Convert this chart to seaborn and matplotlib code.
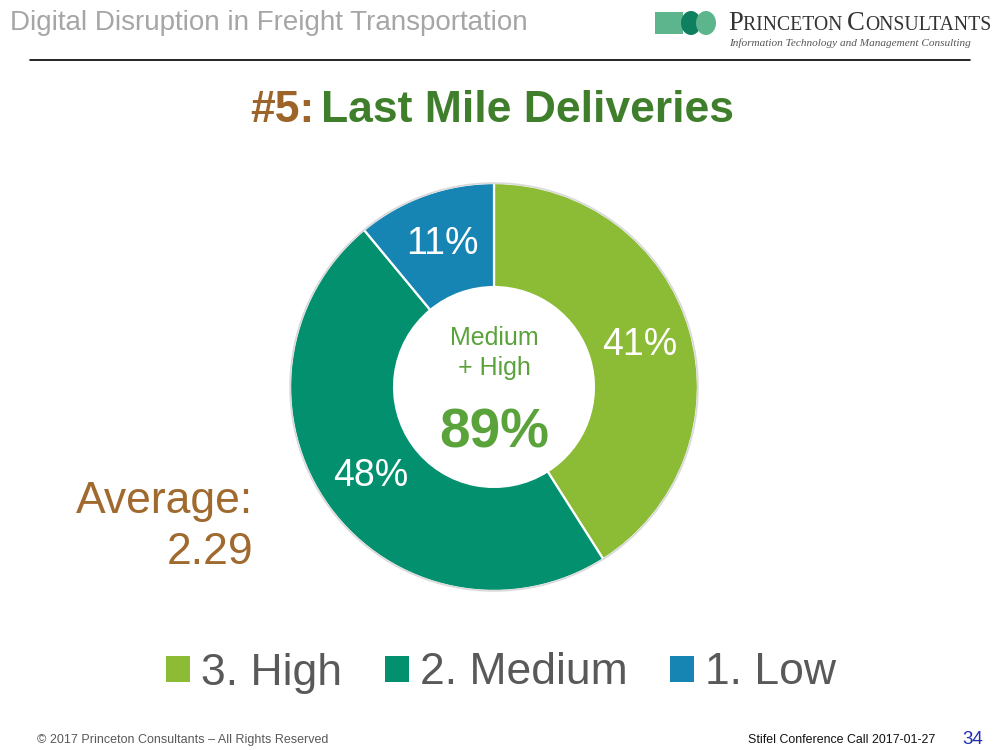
import matplotlib
matplotlib.use("Agg")
import matplotlib.pyplot as plt
import seaborn as sns
from matplotlib.patches import Rectangle, Circle, Ellipse

# ---- data ----
categories = ["3. High", "2. Medium", "1. Low"]
shares = [41, 48, 11]
slice_colors = ["#8CBB35", "#03906F", "#1685B3"]
combined_label_1 = "Medium"
combined_label_2 = "+ High"
combined_value = "89%"
average_label = "Average:"
average_value = "2.29"
header_text = "Digital Disruption in Freight Transportation"
title_num = "#5:"
title_text = "Last Mile Deliveries"

sns.set_theme(style="white")
plt.rcParams['font.family'] = ['Liberation Sans', 'DejaVu Sans']

fig = plt.figure(figsize=(10, 7.5), dpi=100)
fig.patch.set_facecolor("white")

deco = fig.add_axes([0, 0, 1, 1])
deco.set_xlim(0, 1000)
deco.set_ylim(750, 0)
deco.axis("off")
renderer = fig.canvas.get_renderer()


def text_run(x, y, parts, **kw):
    """place text pieces one after another; returns end x in pixels"""
    for s, extra in parts:
        opts = dict(kw)
        opts.update(extra)
        t = deco.text(x, y, s, ha="left", **opts)
        bb = t.get_window_extent(renderer=renderer)
        x = x + bb.width
    return x


# header
deco.text(10, 23, header_text, fontsize=20, color="#A6A6A6", va="center", ha="left")
deco.plot([30, 970], [60, 60], color="black", lw=1.2)

# logo
deco.add_patch(Rectangle((655, 12), 28, 22, color="#5DB58E", lw=0))
deco.add_patch(Ellipse((691, 23), 20, 24, color="#0E7F5F", lw=0))
deco.add_patch(Ellipse((706, 23), 20, 24, color="#5DB58E", lw=0))
big = dict(fontsize=19.2)
small = dict(fontsize=14.2)
text_run(728, 30, [("P", big), ("RINCETON ", small), ("C", big), ("ONSULTANTS", small)],
         family="Liberation Serif", color="#333333", va="baseline")
deco.text(729, 43, "Information Technology and Management Consulting", fontsize=8.1,
          family="Liberation Serif", style="italic", color="#555555", va="center", ha="left")

# title
end = text_run(250, 111, [(title_num, dict(color="#9C6428"))], fontsize=32,
               fontweight="bold", va="center")
deco.text(end + 7, 111, title_text, fontsize=32, fontweight="bold", color="#3F7F2B",
          va="center", ha="left")

# donut
cx, cy, r = 494, 387, 208
ax = fig.add_axes([(cx - r) / 1000, 1 - (cy + r) / 750, 2 * r / 1000, 2 * r / 750])
wedges, texts, autotexts = ax.pie(
    shares, colors=slice_colors, startangle=90, counterclock=False,
    radius=1.0, autopct="%1.0f%%", pctdistance=0.745,
    wedgeprops=dict(width=0.51, edgecolor="white", linewidth=1.6),
    textprops=dict(color="white", fontsize=27))
ax.add_patch(Circle((0, 0), 1.0, fill=False, edgecolor="#D9D9D9", lw=1.2))
ax.set_xlim(-1.02, 1.02)
ax.set_ylim(-1.02, 1.02)
ax.set_aspect("equal")
ax.axis("off")

# center text
deco.text(cx, 338, combined_label_1, fontsize=18, color="#5AA23A", ha="center", va="center")
deco.text(cx, 368, combined_label_2, fontsize=18, color="#5AA23A", ha="center", va="center")
deco.text(cx, 433, combined_value, fontsize=39.5, fontweight="bold", color="#5AA23A",
          ha="center", va="center")

# average
deco.text(253, 502, average_label, fontsize=32, color="#A0692E", ha="right", va="center")
deco.text(253, 553, average_value, fontsize=32, color="#A0692E", ha="right", va="center")

# legend
leg = fig.legend(wedges, categories, loc="center", bbox_to_anchor=(0.501, 1 - 673 / 750),
                 ncol=3, frameon=False, fontsize=32, handlelength=0.54, handleheight=0.52,
                 handletextpad=0.25, columnspacing=0.95, labelcolor="#595959",
                 borderpad=0, borderaxespad=0)
for h in leg.legend_handles:
    h.set_edgecolor("none")

# footer
deco.text(37, 740, "\u00a9 2017 Princeton Consultants \u2013 All Rights Reserved",
          fontsize=9, color="#595959", ha="left", va="center")
deco.text(935, 740, "Stifel Conference Call 2017-01-27", fontsize=8.9, color="#111111",
          ha="right", va="center")
deco.text(962, 740, "34", fontsize=13.5, color="#1F2FB0", ha="left", va="center")

fig.savefig("out.png", dpi=100, facecolor="white")
